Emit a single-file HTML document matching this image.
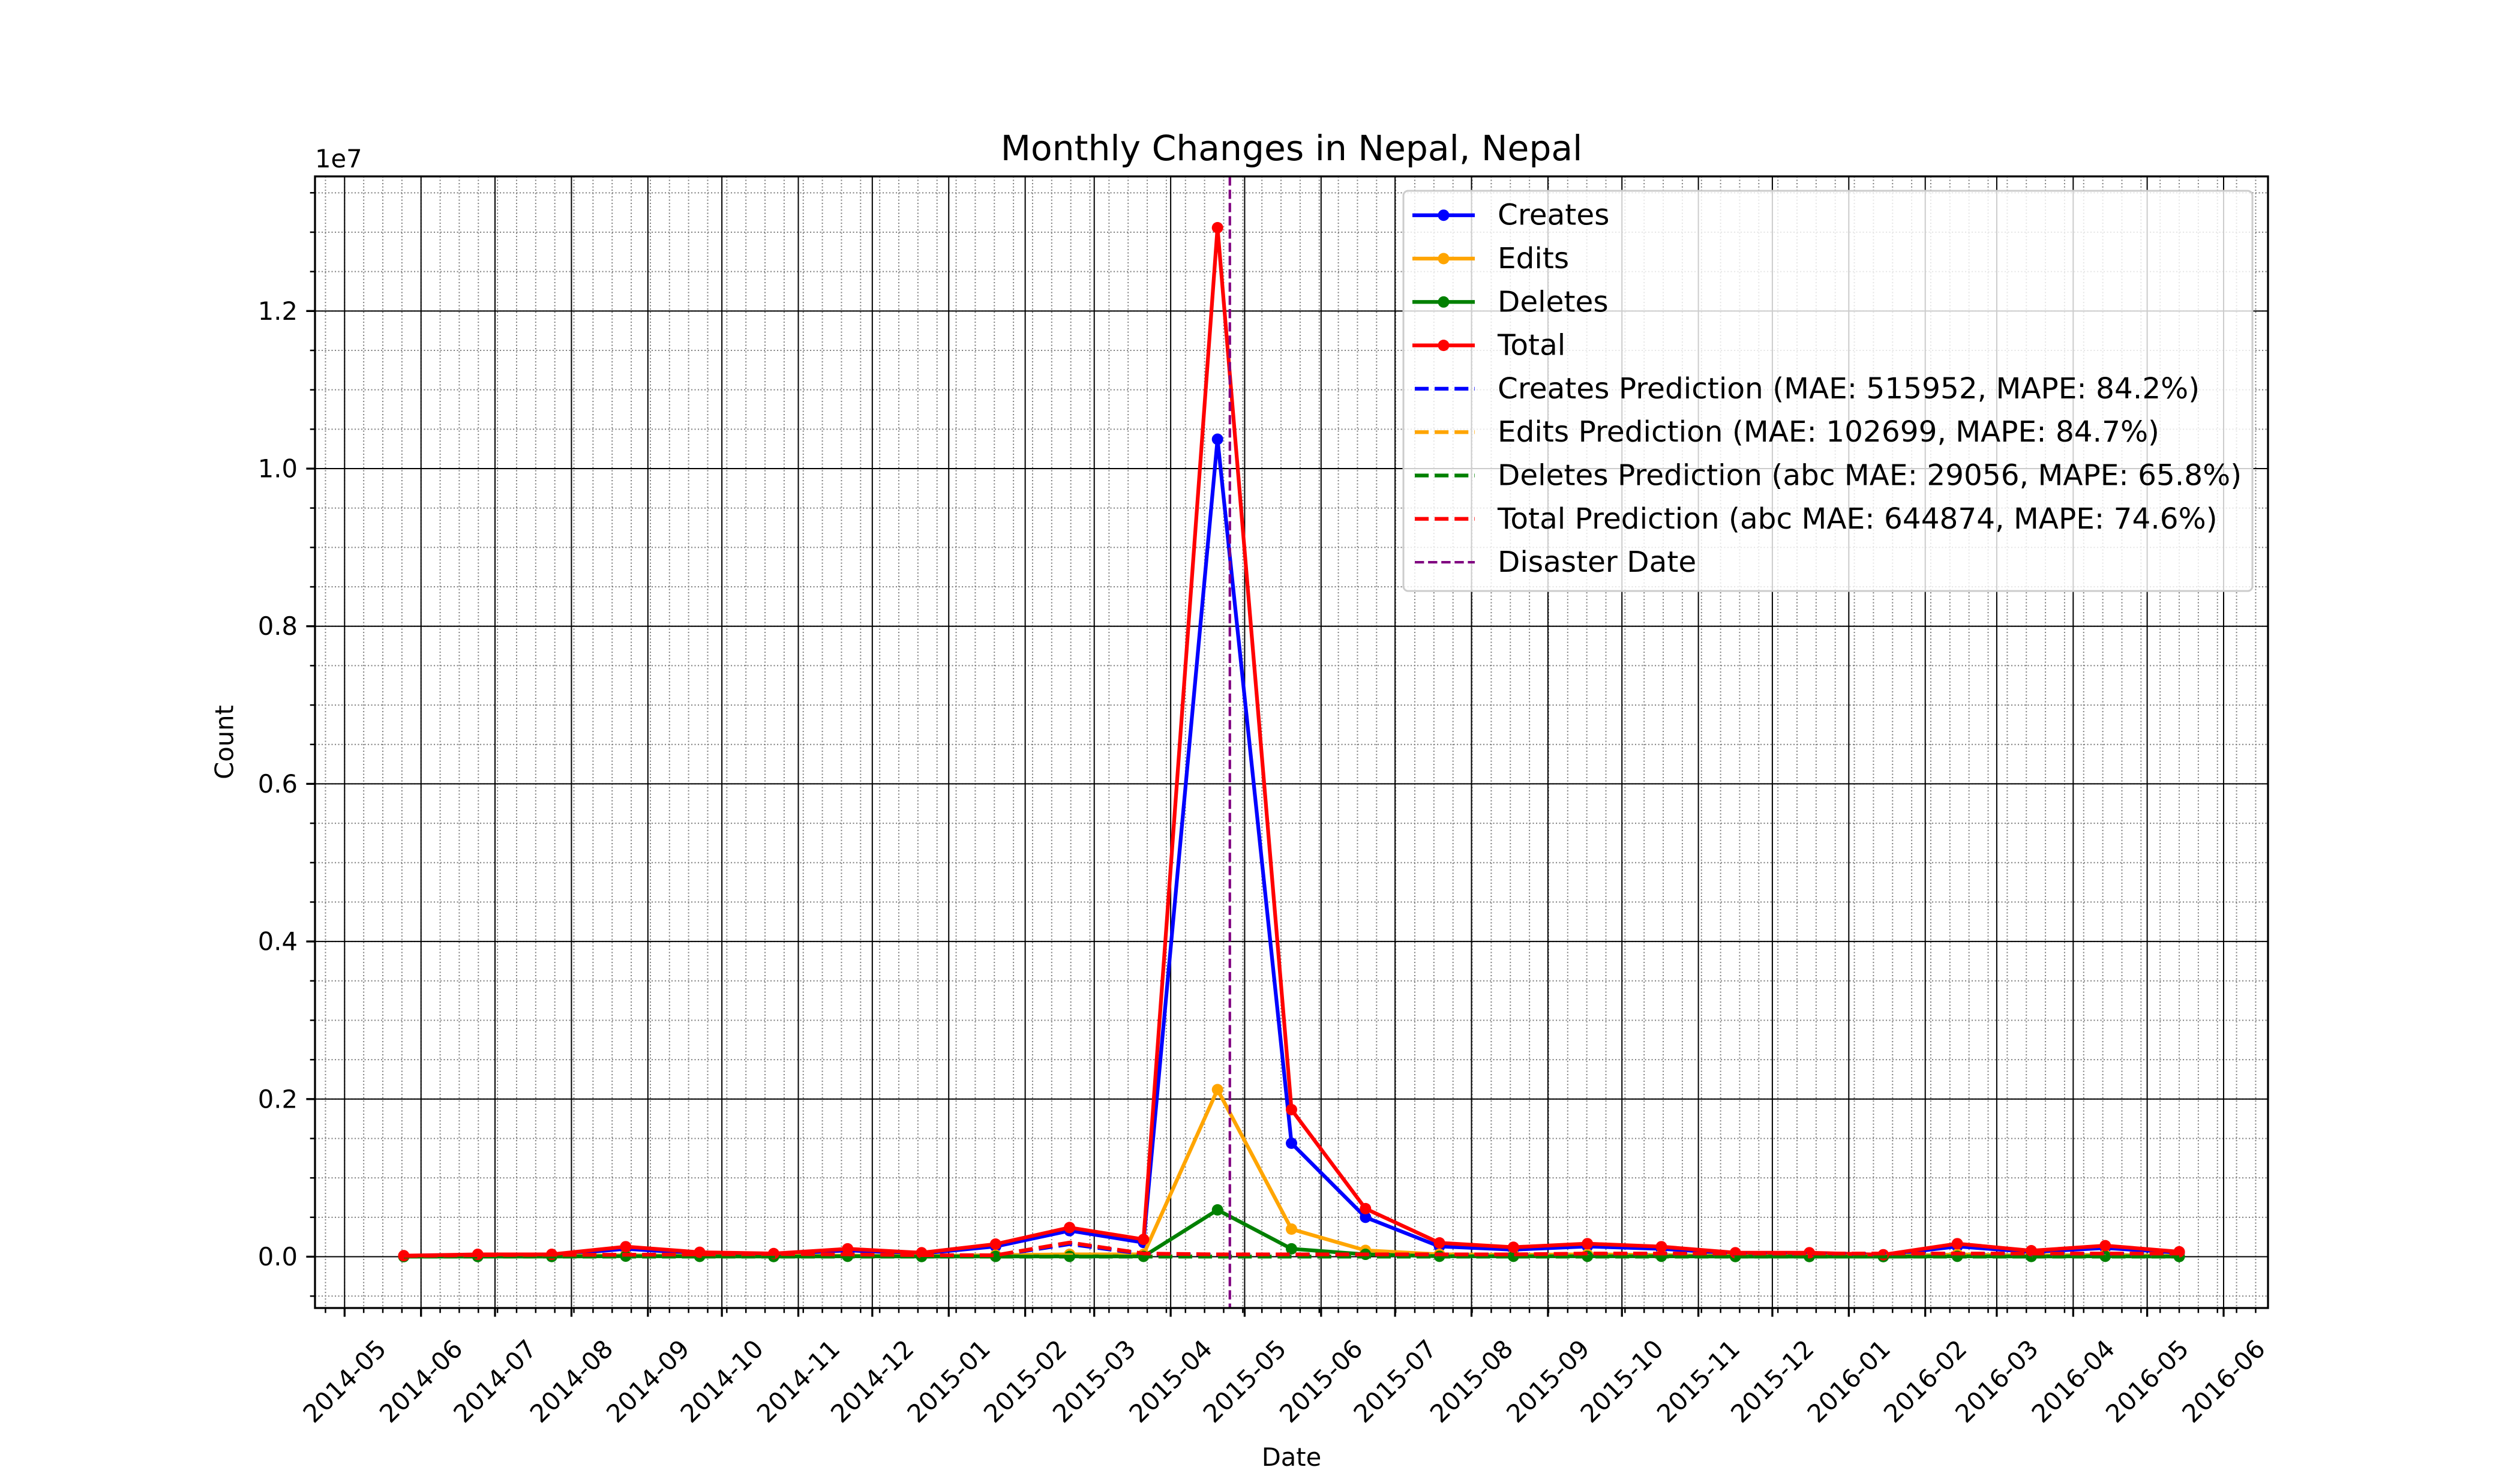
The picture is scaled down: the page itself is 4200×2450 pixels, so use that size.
<!DOCTYPE html>
<html><head><meta charset="utf-8"><title>Monthly Changes in Nepal, Nepal</title>
<style>html,body{margin:0;padding:0;background:#fff;}svg{display:block;font-family:"DejaVu Sans","Liberation Sans",sans-serif;}</style>
</head><body>
<svg id="chart" width="4200" height="2450" viewBox="0 0 4200 2450" xmlns="http://www.w3.org/2000/svg">
<rect x="0" y="0" width="4200" height="2450" fill="#fff"/>
<g id="gridMinor"></g>
<g id="gridMajor"></g>
<g id="series"></g>
<g id="axes"></g>
<text x="2152.5" y="267" font-size="58.3" text-anchor="middle">Monthly Changes in Nepal, Nepal</text>
<text x="525" y="279" font-size="41.67">1e7</text>
<text x="2152.5" y="2443" font-size="41.67" text-anchor="middle">Date</text>
<text x="374" y="1237" font-size="41.67" text-anchor="middle" dominant-baseline="central" transform="rotate(-90 374 1237)">Count</text>
<g id="legend"></g>
</svg>
<script>
const dates = ['2014-05-25','2014-06-24','2014-07-24','2014-08-23','2014-09-22','2014-10-22','2014-11-21','2014-12-21','2015-01-20','2015-02-19','2015-03-21','2015-04-20','2015-05-20','2015-06-19','2015-07-19','2015-08-18','2015-09-17','2015-10-17','2015-11-16','2015-12-16','2016-01-15','2016-02-14','2016-03-15','2016-04-14','2016-05-14'];
const creates = [8000,20000,20000,100000,40000,30000,80000,40000,130000,330000,180000,10373000,1440000,500000,130000,90000,130000,100000,40000,40000,20000,130000,60000,110000,50000];
const edits = [4000,8000,8000,20000,12000,8000,15000,8000,20000,30000,30000,2120000,350000,80000,30000,25000,30000,22000,10000,10000,5000,30000,15000,25000,10000];
const deletes = [1000,2000,2000,7000,4000,2000,5000,2000,4000,4000,4000,594000,100000,30000,5000,5000,5000,5000,2000,2000,1000,5000,3000,5000,2000];
const total = [13000,30000,30000,127000,56000,40000,100000,50000,160000,370000,220000,13057000,1866000,610000,175000,120000,165000,127000,50000,50000,25000,165000,76000,140000,63000];
const createsPred = [9000,17000,21000,21000,25000,30000,25000,17000,15000,160000,34000,25000,25000,25000,26000,27000,34000,34000,34000,34000,34000,34000,34000,34000,34000];
const editsPred = [2000,3000,4000,4000,4000,5000,4000,3000,3000,20000,5000,4000,4000,4000,4000,4000,5000,5000,5000,5000,5000,5000,5000,5000,5000];
const deletesPred = [500,600,700,700,700,800,700,600,600,1000,800,700,700,700,700,700,800,800,800,800,800,800,800,800,800];
const totalPred = [10000,20000,25000,25000,30000,35000,30000,20000,18000,180000,40000,30000,30000,30000,30000,30000,40000,40000,40000,40000,40000,40000,40000,40000,40000];
const disasterDate = '2015-04-25';
const xTickLabels = ['2014-05','2014-06','2014-07','2014-08','2014-09','2014-10','2014-11','2014-12','2015-01','2015-02','2015-03','2015-04','2015-05','2015-06','2015-07','2015-08','2015-09','2015-10','2015-11','2015-12','2016-01','2016-02','2016-03','2016-04','2016-05','2016-06'];
const yTickValues = [0,2000000,4000000,6000000,8000000,10000000,12000000];
const yTickLabels = ['0.0','0.2','0.4','0.6','0.8','1.0','1.2'];

const NS='http://www.w3.org/2000/svg';
const L=525,R=3780,T=294,B=2180;
const XMIN=-12,XMAX=780,YMIN=-651000,YMAX=13708000;
const base=Date.UTC(2014,4,1);
function dayOf(s){const p=s.split('-').map(Number);return (Date.UTC(p[0],p[1]-1,p[2]||1)-base)/86400000;}
function xs(d){return L+(d-XMIN)/(XMAX-XMIN)*(R-L);}
function ys(v){return B-(v-YMIN)/(YMAX-YMIN)*(B-T);}
function mk(tag,attrs,parent){const e=document.createElementNS(NS,tag);for(const k in attrs)e.setAttribute(k,attrs[k]);parent.appendChild(e);return e;}

const gMin=document.getElementById('gridMinor'),gMaj=document.getElementById('gridMajor'),gS=document.getElementById('series'),gA=document.getElementById('axes'),gL=document.getElementById('legend');

for(let d=-7.75;d<=XMAX;d+=7.75){const x=xs(d);if(x<L||x>R)continue;
 const ln=mk('line',{x1:x,x2:x,y1:T,y2:B,stroke:'#808080','stroke-width':2,'stroke-dasharray':'2.1 3.4'},gMin);
 
 
 const tk=mk('line',{x1:x,x2:x,y1:B,y2:B+8.3,stroke:'#000','stroke-width':2.5},gA);
 
 }
for(let v=-500000;v<=YMAX;v+=500000){const y=ys(v);if(y<T||y>B)continue;
 const ln=mk('line',{x1:L,x2:R,y1:y,y2:y,stroke:'#808080','stroke-width':2,'stroke-dasharray':'2.1 3.4'},gMin);
 
 
 const tk=mk('line',{x1:L-8.3,x2:L,y1:y,y2:y,stroke:'#000','stroke-width':2.5},gA);
 
 }
xTickLabels.forEach(lbl=>{const x=xs(dayOf(lbl+'-01'));
 const ln=mk('line',{x1:x,x2:x,y1:T,y2:B,stroke:'#000','stroke-width':2},gMaj);
 
 
 const tk=mk('line',{x1:x,x2:x,y1:B,y2:B+14.6,stroke:'#000','stroke-width':3.3},gA);
 
 
 const cy=2302;
 const t=mk('text',{x:x,y:cy,'font-size':41.67,'text-anchor':'middle','dominant-baseline':'central',transform:'rotate(-45 '+x+' '+cy+')'},gA);
 t.textContent=lbl;
 
 });
yTickValues.forEach((v,i)=>{const y=ys(v);
 const ln=mk('line',{x1:L,x2:R,y1:y,y2:y,stroke:'#000','stroke-width':2},gMaj);
 
 
 const tk=mk('line',{x1:L-14.6,x2:L,y1:y,y2:y,stroke:'#000','stroke-width':3.3},gA);
 
 
 const t=mk('text',{x:496,y:y,'font-size':41.67,'text-anchor':'end','dominant-baseline':'central'},gA);
 t.textContent=yTickLabels[i];
 
 });
const sp=mk('rect',{x:L,y:T,width:R-L,height:B-T,fill:'none',stroke:'#000','stroke-width':3.3},gA);



function pts(vals){return dates.map((d,i)=>xs(dayOf(d)).toFixed(1)+','+ys(vals[i]).toFixed(1)).join(' ');}
function solid(vals,color,name){
 const g=mk('g',{},gS);
 
 
 const pl=mk('polyline',{points:pts(vals),fill:'none',stroke:color,'stroke-width':6.25,'stroke-linejoin':'round','stroke-linecap':'square'},g);
 
 
 dates.forEach((d,i)=>{const c=mk('circle',{cx:xs(dayOf(d)),cy:ys(vals[i]),r:9.5,fill:color},g);
  
  });}
function dashed(vals,color,name){
 const pl=mk('polyline',{points:pts(vals),fill:'none',stroke:color,'stroke-width':6.25,'stroke-dasharray':'23.1 10','stroke-linejoin':'round'},gS);
 
 }
solid(creates,'#0000ff','creates-series');
solid(edits,'#ffa500','edits-series');
solid(deletes,'#008000','deletes-series');
solid(total,'#ff0000','total-series');
dashed(createsPred,'#0000ff','creates-prediction-line');
dashed(editsPred,'#ffa500','edits-prediction-line');
dashed(deletesPred,'#008000','deletes-prediction-line');
dashed(totalPred,'#ff0000','total-prediction-line');
const dx=xs(dayOf(disasterDate));
const dl=mk('line',{x1:dx,x2:dx,y1:T,y2:B,stroke:'#800080','stroke-width':4.17,'stroke-dasharray':'15.4 6.7'},gS);



const lb=mk('rect',{x:2339,y:318,width:1415,height:667,rx:8,fill:'rgba(255,255,255,0.8)',stroke:'#cccccc','stroke-width':3},gL);


const legendEntries=[['Creates','#0000ff','solid'],['Edits','#ffa500','solid'],['Deletes','#008000','solid'],['Total','#ff0000','solid'],['Creates Prediction (MAE: 515952, MAPE: 84.2%)','#0000ff','dash'],['Edits Prediction (MAE: 102699, MAPE: 84.7%)','#ffa500','dash'],['Deletes Prediction (abc MAE: 29056, MAPE: 65.8%)','#008000','dash'],['Total Prediction (abc MAE: 644874, MAPE: 74.6%)','#ff0000','dash'],['Disaster Date','#800080','thin']];
legendEntries.forEach((e,i)=>{const y=358.7+i*72.3;
 const g=mk('g',{},gL);
 
 
 if(e[2]==='solid'){mk('line',{x1:2354,x2:2458,y1:y,y2:y,stroke:e[1],'stroke-width':6.25},g);mk('circle',{cx:2406,cy:y,r:9.5,fill:e[1]},g);}
 else if(e[2]==='dash'){mk('line',{x1:2358,x2:2458,y1:y,y2:y,stroke:e[1],'stroke-width':6.25,'stroke-dasharray':'23.1 10'},g);}
 else {mk('line',{x1:2358,x2:2458,y1:y,y2:y,stroke:e[1],'stroke-width':4.17,'stroke-dasharray':'15.4 6.7'},g);}
 const t=mk('text',{x:2496,y:y,'font-size':48.5,'dominant-baseline':'central'},g);
 t.textContent=e[0];
 
 });
</script>
</body></html>
